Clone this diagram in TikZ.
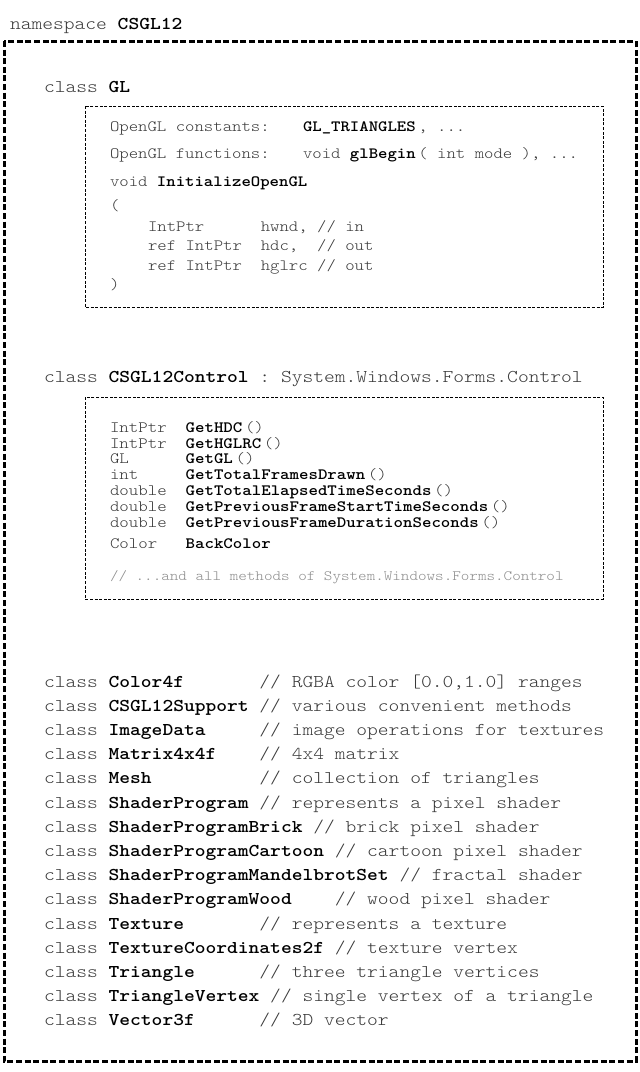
\documentclass[tikz,border=0pt]{standalone}
\usepackage{fontspec}
\setmonofont{lmmonolt10-regular.otf}[BoldFont=lmmonolt10-bold.otf,FakeStretch=1.14]
\begin{document}
\begin{tikzpicture}[x=1pt,y=-1pt]
\useasboundingbox (0,0) rectangle (640,1072);
\tikzset{
  txt/.style={anchor=base west, inner sep=0pt, outer sep=0pt,
    font=\ttfamily\fontsize{18}{18}\selectfont, text=black!78},
  gltxt/.style={txt, font=\ttfamily\fontsize{15.7}{15.7}\selectfont},
  ctltxt/.style={txt, font=\ttfamily\fontsize{15.8}{15.8}\selectfont},
  cmttxt/.style={txt, font=\ttfamily\fontsize{14.3}{14.3}\selectfont, text=black!45},
  outerbox/.style={draw=black, line width=3pt, dash pattern=on 6pt off 2.6pt},
  innerbox/.style={draw=black, line width=1pt, dash pattern=on 3pt off 1.6pt},
}
% namespace
\node[txt] (ns) at (10,29) {namespace \textcolor{black}{\textbf{CSGL12}}};
\draw[outerbox] (4,41) rectangle (636,1061);

% class GL
\node[txt] (clsGL) at (44,92) {class \textcolor{black}{\textbf{GL}}};
\draw[innerbox] (85,106) rectangle (603,307.5);
\node[gltxt] (c1) at (110,131.5) {OpenGL constants:};
\node[gltxt] (c1b) at (303,131.5) {\textcolor{black}{\textbf{GL\_TRIANGLES}}\,, ...};
\node[gltxt] (f1) at (110,158.5) {OpenGL functions:};
\node[gltxt] (f1b) at (303,158.5) {void \textcolor{black}{\textbf{glBegin}}\,( int mode ), ...};
\node[gltxt] (init) at (110,186.5) {void \textcolor{black}{\textbf{InitializeOpenGL}}};
\node[gltxt] (po) at (110,210) {(};
\node[gltxt] (p1) at (148,231) {IntPtr~~~~~~hwnd, // in};
\node[gltxt] (p2) at (148,250.5) {ref IntPtr~~hdc,~~// out};
\node[gltxt] (p3) at (148,270) {ref IntPtr~~hglrc // out};
\node[gltxt] (pc) at (110,289.5) {)};

% class CSGL12Control
\node[txt] (clsCtl) at (44,382) {class \textcolor{black}{\textbf{CSGL12Control}} : System.Windows.Forms.Control};
\draw[innerbox] (85,397) rectangle (603,599);
\node[ctltxt] (m1) at (110,432.5) {IntPtr~~\textcolor{black}{\textbf{GetHDC}}\,()};
\node[ctltxt] (m2) at (110,448) {IntPtr~~\textcolor{black}{\textbf{GetHGLRC}}\,()};
\node[ctltxt] (m3) at (110,463.5) {GL~~~~~~\textcolor{black}{\textbf{GetGL}}\,()};
\node[ctltxt] (m4) at (110,479.5) {int~~~~~\textcolor{black}{\textbf{GetTotalFramesDrawn}}\,()};
\node[ctltxt] (m5) at (110,495.5) {double~~\textcolor{black}{\textbf{GetTotalElapsedTimeSeconds}}\,()};
\node[ctltxt] (m6) at (110,511) {double~~\textcolor{black}{\textbf{GetPreviousFrameStartTimeSeconds}}\,()};
\node[ctltxt] (m7) at (110,527) {double~~\textcolor{black}{\textbf{GetPreviousFrameDurationSeconds}}\,()};
\node[ctltxt] (m8) at (110,548) {Color~~~\textcolor{black}{\textbf{BackColor}}};
\node[cmttxt] (m9) at (110,580) {// ...and all methods of System.Windows.Forms.Control};

% class list
\node[txt] (l1) at (44,687) {class \textcolor{black}{\textbf{Color4f}}~~~~~~~// RGBA color [0.0,1.0] ranges};
\node[txt] (l2) at (44,711.2) {class \textcolor{black}{\textbf{CSGL12Support}} // various convenient methods};
\node[txt] (l3) at (44,735.4) {class \textcolor{black}{\textbf{ImageData}}~~~~~// image operations for textures};
\node[txt] (l4) at (44,759.6) {class \textcolor{black}{\textbf{Matrix4x4f}}~~~~// 4x4 matrix};
\node[txt] (l5) at (44,783.8) {class \textcolor{black}{\textbf{Mesh}}~~~~~~~~~~// collection of triangles};
\node[txt] (l6) at (44,808) {class \textcolor{black}{\textbf{ShaderProgram}} // represents a pixel shader};
\node[txt] (l7) at (44,832.2) {class \textcolor{black}{\textbf{ShaderProgramBrick}} // brick pixel shader};
\node[txt] (l8) at (44,856.4) {class \textcolor{black}{\textbf{ShaderProgramCartoon}} // cartoon pixel shader};
\node[txt] (l9) at (44,880.6) {class \textcolor{black}{\textbf{ShaderProgramMandelbrotSet}} // fractal shader};
\node[txt] (l10) at (44,904.8) {class \textcolor{black}{\textbf{ShaderProgramWood}}~~~~// wood pixel shader};
\node[txt] (l11) at (44,929) {class \textcolor{black}{\textbf{Texture}}~~~~~~~// represents a texture};
\node[txt] (l12) at (44,953.2) {class \textcolor{black}{\textbf{TextureCoordinates2f}} // texture vertex};
\node[txt] (l13) at (44,977.4) {class \textcolor{black}{\textbf{Triangle}}~~~~~~// three triangle vertices};
\node[txt] (l14) at (44,1001.6) {class \textcolor{black}{\textbf{TriangleVertex}} // single vertex of a triangle};
\node[txt] (l15) at (44,1025.8) {class \textcolor{black}{\textbf{Vector3f}}~~~~~~// 3D vector};
\end{tikzpicture}
\end{document}
